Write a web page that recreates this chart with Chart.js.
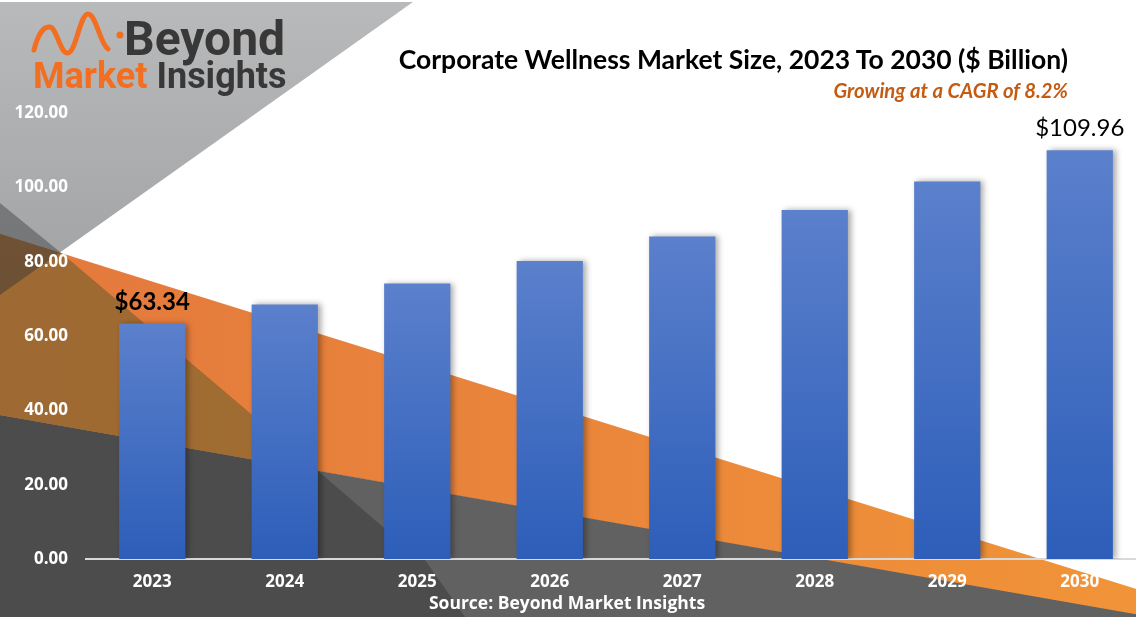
<!DOCTYPE html>
<html>
<head>
<meta charset="utf-8">
<script src="https://cdn.jsdelivr.net/npm/chart.js@4.4.1/dist/chart.umd.min.js"></script>
<style>
  html, body { margin:0; padding:0; }
  body { width:1136px; height:617px; overflow:hidden; position:relative; background:#fff; }
  #wrap { position:absolute; left:0; top:0; width:1146px; height:617px; }
  .ov { position:absolute; white-space:nowrap; z-index:5; }
  #title { left:0; width:1068px; text-align:right; top:44px; font:700 26.5px/30px Lato, sans-serif; color:#000; }
  #subtitle { left:0; width:1068px; text-align:right; top:79px; font:italic 700 20.3px/22px Lato, sans-serif; color:#c55a11; }
  #source { left:367px; width:400px; text-align:center; top:592px; font:700 17.5px/20px "Open Sans", sans-serif; color:#fff; }
  #logo1 { left:124px; top:15px; font:700 48px/48px Roboto, sans-serif; color:#383838; }
  #logo2 { left:33px; top:58px; font:700 36px/36px Roboto, sans-serif; color:#383838; }
  #logo2 .o { color:#f26f21; }
  #wave { position:absolute; left:0; top:0; z-index:5; }
</style>
</head>
<body>
<div id="wrap"><canvas id="c"></canvas></div>
<svg id="wave" width="140" height="70" viewBox="0 0 140 70">
  <path d="M34,50 C38,34 44,26 50,27 C57,28 60,54 68,53 C76,52 80,14 88,14 C96,14 100,44 108,49" fill="none" stroke="#f26f21" stroke-width="5" stroke-linecap="round"/>
  <circle cx="120" cy="35" r="3.5" fill="#f26f21"/>
</svg>
<div id="logo1" class="ov">Beyond</div>
<div id="logo2" class="ov"><span class="o">Market</span> Insights</div>
<div id="title" class="ov">Corporate Wellness Market Size, 2023 To 2030 ($ Billion)</div>
<div id="subtitle" class="ov">Growing at a CAGR of 8.2%</div>
<div id="source" class="ov">Source: Beyond Market Insights</div>
<script>
const categories = ['2023', '2024', '2025', '2026', '2027', '2028', '2029', '2030'];
const marketSize = [63.34, 68.5, 74.1, 80.2, 86.8, 93.9, 101.6, 109.96];
const labelledPoints = [0, 7];
const yMin = 0, yMax = 120, yStep = 20;

function orangePath(ctx, W) {
  ctx.beginPath();
  ctx.moveTo(0, 234); ctx.lineTo(W, 592); ctx.lineTo(W, 617); ctx.lineTo(0, 415);
  ctx.closePath();
}
function greyBandPath(ctx, W, H) {
  ctx.beginPath();
  ctx.moveTo(0, 415); ctx.lineTo(W, 616); ctx.lineTo(W, H); ctx.lineTo(0, H);
  ctx.closePath();
}
function darkTriPath(ctx) {
  ctx.beginPath();
  ctx.moveTo(0, 203); ctx.lineTo(60, 252); ctx.lineTo(318, 471); ctx.lineTo(383, 527);
  ctx.lineTo(425, 560); ctx.lineTo(465, 617); ctx.lineTo(0, 617);
  ctx.closePath();
}

const backgroundPlugin = {
  id: 'bgShapes',
  beforeDraw(chart) {
    const ctx = chart.ctx;
    const W = chart.width, H = chart.height;
    ctx.save();
    ctx.fillStyle = '#ffffff';
    ctx.fillRect(0, 0, W, H);
    const og = ctx.createLinearGradient(0, 0, W, 0);
    og.addColorStop(0, '#e3783d');
    og.addColorStop(1, '#f19438');
    ctx.fillStyle = og;
    orangePath(ctx, W); ctx.fill();
    ctx.fillStyle = '#616161';
    greyBandPath(ctx, W, H); ctx.fill();
    // dark triangle over grey band / white
    ctx.save();
    darkTriPath(ctx); ctx.clip();
    ctx.fillStyle = 'rgba(45,45,45,0.40)';
    ctx.fillRect(0, 0, W, H);
    ctx.restore();
    // dark triangle over orange: warmer tint (overdraw orange part)
    ctx.save();
    darkTriPath(ctx); ctx.clip();
    orangePath(ctx, W); ctx.clip();
    ctx.fillStyle = og; ctx.fillRect(0, 0, W, H);
    ctx.fillStyle = 'rgba(56,83,36,0.40)';
    ctx.fillRect(0, 0, W, H);
    ctx.restore();
    // grey triangle top-left
    const gg = ctx.createLinearGradient(0, 0, 0, 295);
    gg.addColorStop(0, 'rgba(50,52,55,0.34)');
    gg.addColorStop(1, 'rgba(50,52,55,0.46)');
    ctx.fillStyle = gg;
    ctx.beginPath();
    ctx.moveTo(0, 2); ctx.lineTo(413, 2); ctx.lineTo(0, 295);
    ctx.closePath(); ctx.fill();
    ctx.restore();
  },
  beforeDatasetsDraw(chart) {
    const ctx = chart.ctx;
    ctx.save();
    ctx.shadowColor = 'rgba(0,0,0,0.35)';
    ctx.shadowBlur = 6;
    ctx.shadowOffsetX = 3;
    ctx.shadowOffsetY = 0;
  },
  afterDatasetsDraw(chart) {
    const ctx = chart.ctx;
    ctx.restore();
    const meta = chart.getDatasetMeta(0);
    ctx.save();
    ctx.fillStyle = '#000';
    ctx.textAlign = 'center';
    ctx.textBaseline = 'alphabetic';
    labelledPoints.forEach((i, k) => {
      const el = meta.data[i];
      ctx.font = (k === 0 ? '700 ' : '400 ') + '24px Lato, sans-serif';
      ctx.fillText('$' + marketSize[i].toFixed(2), el.x, el.y - 14);
    });
    ctx.restore();
  }
};

new Chart(document.getElementById('c'), {
  type: 'bar',
  data: {
    labels: categories,
    datasets: [{
      data: marketSize,
      backgroundColor: (c) => {
        const chart = c.chart;
        const area = chart.chartArea;
        if (!area || c.raw === undefined) return '#4472c4';
        const top = chart.scales.y.getPixelForValue(c.raw);
        const g = chart.ctx.createLinearGradient(0, top, 0, area.bottom);
        g.addColorStop(0, '#5b80cc');
        g.addColorStop(1, '#2d5eb9');
        return g;
      },
      borderWidth: 0,
      barPercentage: 0.5,
      categoryPercentage: 1.0
    }]
  },
  options: {
    responsive: true,
    maintainAspectRatio: false,
    animation: false,
    layout: { padding: { top: 113, left: 0, right: 0, bottom: 0 } },
    plugins: { legend: { display: false }, tooltip: { enabled: false } },
    scales: {
      x: {
        grid: { display: false, drawTicks: false },
        border: { display: true, color: '#d9d9d9', width: 2 },
        ticks: { color: '#ffffff', font: { family: 'Open Sans', weight: '700', size: 17 }, padding: 13 },
        afterFit(s) { s.height = 58; }
      },
      y: {
        min: yMin, max: yMax,
        grid: { display: false, drawTicks: false },
        border: { display: false },
        ticks: {
          stepSize: yStep,
          color: '#ffffff',
          font: { family: 'Open Sans', weight: '700', size: 17 },
          padding: 18,
          callback: (v) => Number(v).toFixed(2)
        },
        afterFit(s) { s.width = 86; }
      }
    }
  },
  plugins: [backgroundPlugin]
});
</script>
</body>
</html>
